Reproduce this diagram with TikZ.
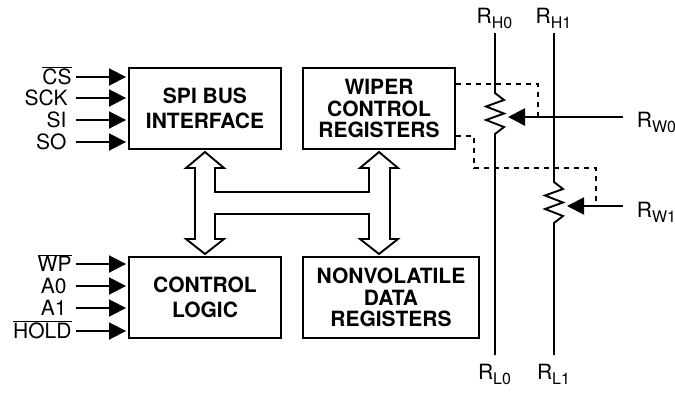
\documentclass[tikz,border=0pt]{standalone}
\usepackage{fontspec}
\setmainfont{TeX Gyre Heros}
\usetikzlibrary{calc}
\usetikzlibrary{arrows.meta}
\tikzset{
	every path/.style={line width=1.9pt},
	block/.style={
		draw,
		rectangle,
		align=center,
		minimum width=152pt,
		minimum height=81pt,
		font=\fontsize{21}{21.5}\selectfont\bfseries,
	},
	pin/.style={
		anchor=east,
		inner sep=0pt,
		text height=15pt,
		text depth=0pt,
		font=\fontsize{21}{21}\selectfont,
	},
	rail/.style={
		anchor=base,
		inner sep=0pt,
		font=\fontsize{21}{21}\selectfont,
	},
	signal/.style={
		-{Triangle[length=17pt,width=17pt]},
	},
	link/.style={dashed,dash pattern=on 5pt off 5pt,line width=1.4pt},
}
\newcommand{\railname}[1]{R\raisebox{-5pt}{\fontsize{16}{16}\selectfont #1}}
\begin{document}
\begin{tikzpicture}[x=1pt,y=-1pt]
	\useasboundingbox (0,0) rectangle (675,392);

	\node[block] (spi)    at (205,108.5) {SPI BUS\\[3.5pt]INTERFACE};
	\node[block] (wiper)  at (379,108.5) {WIPER\\CONTROL\\REGISTERS};
	\node[block] (logic)  at (205,297.5) {CONTROL\\[3.5pt]LOGIC};
	\node[block,minimum width=176pt] (nvdata) at (391,297.5) {NONVOLATILE\\DATA\\REGISTERS};

	\node[pin] (cs)   at (72.5,77)  {$\overline{\mbox{CS}}$};
	\node[pin] (sck)  at (68.5,98)  {SCK};
	\node[pin] (si)   at (67.5,120) {SI};
	\node[pin] (so)   at (67.5,142) {SO};
	\node[pin] (wp)   at (72.5,264) {$\overline{\mbox{WP}}$};
	\node[pin] (azero) at (67.5,286) {A0};
	\node[pin] (aone)  at (67.5,308) {A1};
	\node[pin] (hold) at (72.5,331) {$\overline{\mbox{HOLD}}$};

	\foreach \pinname in {cs,sck,si,so}
		\draw[signal] (\pinname -| 76,0) -- ($(\pinname -| spi.west)+(-2,0)$);
	\foreach \pinname in {wp,azero,aone,hold}
		\draw[signal] (\pinname -| 76,0) -- ($(\pinname -| logic.west)+(-2,0)$);

	% bus
	\draw[line join=miter] (205,152) -- (224,168) -- (215,168) -- (215,192) -- (369,192) -- (369,168)
		-- (360,168) -- (379,152) -- (398,168) -- (390,168) -- (390,239) -- (398,239) -- (379,254)
		-- (360,239) -- (369,239) -- (369,214) -- (215,214) -- (215,239) -- (224,239) -- (205,254)
		-- (186,239) -- (195,239) -- (195,168) -- (186,168) -- cycle;

	\node[rail] (rhzero) at (494.5,23)  {\railname{H0}};
	\node[rail] (rhone)  at (553.5,23)  {\railname{H1}};
	\node[rail] (rlzero) at (494.5,379) {\railname{L0}};
	\node[rail] (rlone)  at (553.5,379) {\railname{L1}};
	\node[rail,anchor=base west] (rwzero) at (636,127) {\railname{W0}};
	\node[rail,anchor=base west] (rwone)  at (636,217) {\railname{W1}};

	% rails with their zigzags
	\draw (495,33) -- (495,93) -- ++(9,7) -- ++(-18,6.5) -- ++(18,7) -- ++(-18,6.5) -- ++(18,7) -- ++(-9,7)
		-- (495,355);
	\draw (554,33) -- (554,182) -- ++(9,7) -- ++(-18,6.5) -- ++(18,7) -- ++(-18,6.5) -- ++(18,7) -- ++(-9,7)
		-- (554,355);

	\draw[signal,line width=2.6pt] (566,117) -- (508,117);
	\draw (566,117) -- (623,117);
	\draw[signal] (623,206) -- (567,206);

	\draw[link] (wiper.east |- 0,84) -- (538,84) -- (538,117);
	\draw[link] (wiper.east |- 0,136) -- (474,136) -- (474,168) -- (596,168) -- (596,206);
\end{tikzpicture}
\end{document}
